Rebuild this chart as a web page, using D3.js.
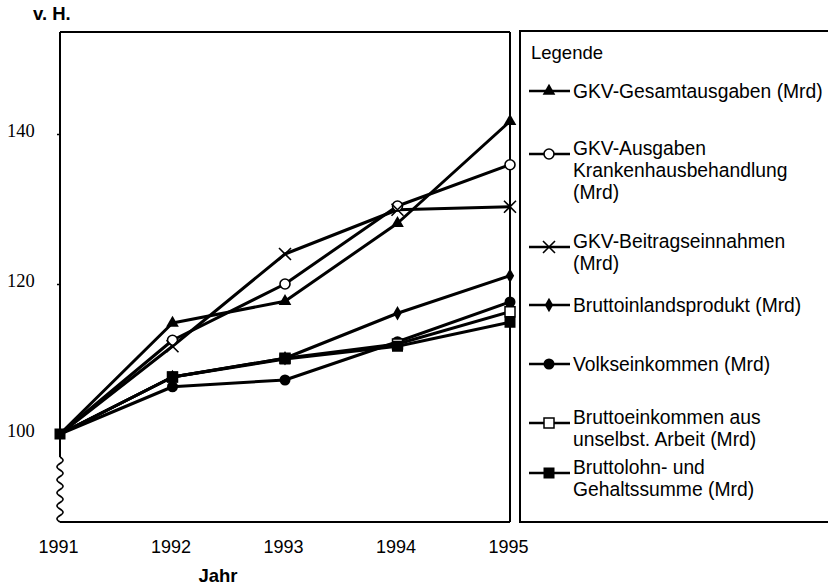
<!DOCTYPE html>
<html><head><meta charset="utf-8">
<script src="https://cdn.jsdelivr.net/npm/d3@7"></script>
<style>body{margin:0;background:#fff}svg{display:block}</style>
</head><body>
<svg id="c" width="828" height="585"></svg>
<script>
const years = [1991, 1992, 1993, 1994, 1995];
const yTicks = [100, 120, 140];
const gesamt      = [100, 114.8, 117.7, 128.1, 141.7];
const krankenhaus = [100, 112.5, 120.0, 130.4, 135.9];
const beitrag     = [100, 111.7, 124.0, 129.9, 130.3];
const bip         = [100, 107.6, 110.1, 116.1, 121.1];
const volk        = [100, 106.3, 107.2, 112.3, 117.6];
const bruttoeink  = [100, 107.6, 110.1, 112.0, 116.3];
const bruttolohn  = [100, 107.6, 110.0, 111.7, 114.9];

const series = [
  {name:["GKV-Gesamtausgaben (Mrd)"], values:gesamt, sym:"tri"},
  {name:["GKV-Ausgaben","Krankenhausbehandlung","(Mrd)"], values:krankenhaus, sym:"ocircle"},
  {name:["GKV-Beitragseinnahmen","(Mrd)"], values:beitrag, sym:"x"},
  {name:["Bruttoinlandsprodukt (Mrd)"], values:bip, sym:"diamond"},
  {name:["Volkseinkommen (Mrd)"], values:volk, sym:"fcircle"},
  {name:["Bruttoeinkommen aus","unselbst. Arbeit (Mrd)"], values:bruttoeink, sym:"osquare"},
  {name:["Bruttolohn- und","Gehaltssumme (Mrd)"], values:bruttolohn, sym:"fsquare"}
];
const legendY = [91, 148, 241, 305, 364, 417, 467];

const svg = d3.select("#c");
svg.append("rect").attr("width",828).attr("height",585).attr("fill","#fff");
const L = 60, R = 510, T = 32, B = 522;
const x = d3.scaleLinear().domain([1991,1995]).range([L,R]);
const y = d3.scaleLinear().domain([100 - (B-434)/7.5, 100 + (434-T)/7.5]).range([B,T]);

// frame
const frame = svg.append("g").attr("stroke","#000").attr("stroke-width",2).attr("fill","none");
frame.append("line").attr("x1",L).attr("x2",R).attr("y1",T).attr("y2",T);
frame.append("line").attr("x1",L).attr("x2",R).attr("y1",B).attr("y2",B);
frame.append("line").attr("x1",R).attr("x2",R).attr("y1",T).attr("y2",B);
const breakTop = 457;
frame.append("line").attr("x1",L).attr("x2",L).attr("y1",T).attr("y2",breakTop);
const wave = d3.range(breakTop, B+0.5, 0.5).map(v => [L + 3*Math.sin((v-breakTop)/13*2*Math.PI), v]);
frame.append("path").attr("d", d3.line()(wave)).attr("stroke-width",1.6);

// y axis ticks
const yAxis = d3.axisLeft(y).tickValues(yTicks).tickSize(3).tickPadding(24).tickFormat(d3.format("d"));
const ya = svg.append("g").attr("transform",`translate(${L},0)`).call(yAxis);
ya.select(".domain").remove();
ya.selectAll("line").attr("stroke","#000").attr("stroke-width",1.5);
ya.selectAll("text").attr("font-family","Liberation Serif, serif").attr("font-size",18.5).attr("fill","#000").attr("text-anchor","start").attr("x",-53).attr("dy","0.15em");

// x axis labels
const xAxis = d3.axisBottom(x).tickValues(years).tickSize(0).tickPadding(18).tickFormat(d3.format("d"));
const xa = svg.append("g").attr("transform",`translate(0,${B})`).call(xAxis);
xa.select(".domain").remove();
xa.selectAll("text").attr("font-family","Liberation Sans, Arial, sans-serif").attr("font-size",18).attr("fill","#000").attr("dx",-2);

svg.append("text").attr("x",218).attr("y",582).attr("text-anchor","middle")
  .attr("font-family","Liberation Sans, Arial, sans-serif").attr("font-weight","bold").attr("font-size",18.5).text("Jahr");
svg.append("text").attr("x",33).attr("y",20)
  .attr("font-family","Liberation Sans, Arial, sans-serif").attr("font-weight","bold").attr("font-size",18.5).text("v. H.");

function drawSym(g, sym, cx, cy){
  switch(sym){
    case "tri": g.append("path").attr("d",d3.symbol(d3.symbolTriangle,70)()).attr("transform",`translate(${cx},${cy})`).attr("fill","#000"); break;
    case "ocircle": g.append("circle").attr("cx",cx).attr("cy",cy).attr("r",5).attr("fill","#fff").attr("stroke","#000").attr("stroke-width",1.6); break;
    case "x": g.append("path").attr("d",`M${cx-6},${cy-6}L${cx+6},${cy+6}M${cx-6},${cy+6}L${cx+6},${cy-6}`).attr("stroke","#000").attr("stroke-width",1.6); break;
    case "diamond": g.append("path").attr("d",d3.symbol(d3.symbolDiamond,60)()).attr("transform",`translate(${cx},${cy})`).attr("fill","#000"); break;
    case "fcircle": g.append("circle").attr("cx",cx).attr("cy",cy).attr("r",5.5).attr("fill","#000"); break;
    case "osquare": g.append("rect").attr("x",cx-5).attr("y",cy-5).attr("width",10).attr("height",10).attr("fill","#fff").attr("stroke","#000").attr("stroke-width",1.5); break;
    case "fsquare": g.append("rect").attr("x",cx-5.5).attr("y",cy-5.5).attr("width",11).attr("height",11).attr("fill","#000"); break;
  }
}

const line = d3.line().x((d,i)=>x(years[i])).y(d=>y(d));
const plot = svg.append("g");
series.forEach(s=>{
  plot.append("path").attr("d",line(s.values)).attr("fill","none").attr("stroke","#000").attr("stroke-width",3).attr("stroke-linejoin","round");
});
series.forEach(s=>{
  const g = plot.append("g");
  s.values.forEach((v,i)=>{ if(i>0) drawSym(g, s.sym, x(years[i]), y(v)); });
});
// 1991 point marker
drawSym(plot, "fsquare", x(years[0]), y(bruttolohn[0]));

// legend
const lg = svg.append("g");
lg.append("rect").attr("x",520).attr("y",31).attr("width",330).attr("height",491).attr("fill","none").attr("stroke","#000").attr("stroke-width",2);
lg.append("text").attr("x",531).attr("y",59).attr("font-family","Liberation Sans, Arial, sans-serif").attr("font-size",18.5).text("Legende");
series.forEach((s,i)=>{
  const cy = legendY[i];
  const symY = s.name.length > 1 ? cy + 6 : cy;
  lg.append("line").attr("x1",529).attr("x2",570).attr("y1",symY).attr("y2",symY).attr("stroke","#000").attr("stroke-width",2.6);
  drawSym(lg, s.sym, 549, symY);
  const t = lg.append("text").attr("x",573).attr("y",cy+7).attr("font-family","Liberation Sans, Arial, sans-serif").attr("font-size",19.3);
  s.name.forEach((n,j)=>t.append("tspan").attr("x",573).attr("dy",j===0?0:22).text(n));
});
</script>
</body></html>
